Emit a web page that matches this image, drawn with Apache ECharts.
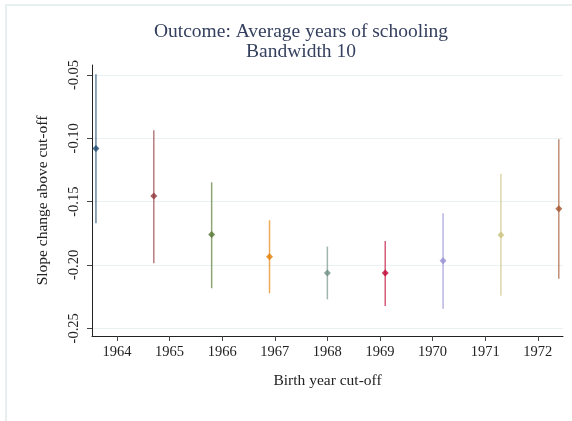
<!DOCTYPE html>
<html>
<head>
<meta charset="utf-8">
<script src="https://cdn.jsdelivr.net/npm/echarts@6/dist/echarts.min.js"></script>
<style>
html,body{margin:0;padding:0;background:#fff;}
#c{width:572px;height:421px;}
</style>
</head>
<body>
<div id="c"></div>
<script>
// Data
const cutoffYears = [1964, 1965, 1966, 1967, 1968, 1969, 1970, 1971, 1972];
const plotPositions = [1963.6, 1964.7, 1965.8, 1966.9, 1968.0, 1969.1, 1970.2, 1971.3, 1972.4];
const estimates = [-0.108, -0.1455, -0.176, -0.1935, -0.2063, -0.2063, -0.1966, -0.1763, -0.1556];
const ciUpper = [-0.0494, -0.0937, -0.1347, -0.1647, -0.1855, -0.1811, -0.1592, -0.1279, -0.1008];
const ciLower = [-0.1671, -0.1987, -0.2184, -0.2224, -0.2271, -0.2324, -0.2345, -0.2243, -0.2108];
const colors = ['#1a476f', '#90353b', '#55752f', '#e37e00', '#6e8e84', '#c10534', '#938dd2', '#cac27e', '#a0522d'];
const yTicks = [-0.25, -0.20, -0.15, -0.10, -0.05];

const serif = '"Liberation Serif", "DejaVu Serif", serif';
const chart = echarts.init(document.getElementById('c'));

const ciData = plotPositions.map((x, i) => [x, ciLower[i], ciUpper[i]]);
const ptData = plotPositions.map((x, i) => ({value: [x, estimates[i]], itemStyle: {color: colors[i]}}));

chart.setOption({
  backgroundColor: '#ffffff',
  animation: false,
  graphic: [
    {type: 'rect', shape: {x: 5, y: 4, width: 567, height: 2}, style: {fill: '#e8eff1'}, silent: true},
    {type: 'rect', shape: {x: 5, y: 4, width: 2, height: 417}, style: {fill: '#e8eff1'}, silent: true}
  ],
  title: {
    text: 'Outcome: Average years of schooling\nBandwidth 10',
    left: 296, top: 17, textAlign: 'center',
    textStyle: {fontFamily: serif, fontSize: 19.5, fontWeight: 'normal', color: '#34405e', lineHeight: 20}
  },
  grid: {left: 92, right: 9, top: 65, bottom: 85, containLabel: false},
  xAxis: {
    type: 'value', min: 1963.525, max: 1972.48,
    name: 'Birth year cut-off', nameLocation: 'middle', nameGap: 37,
    nameTextStyle: {fontFamily: serif, fontSize: 15.5, color: '#222'},
    axisLine: {show: true, lineStyle: {color: '#222', width: 1}},
    axisTick: {show: true, length: 5, customValues: cutoffYears, lineStyle: {color: '#444'}},
    axisLabel: {customValues: cutoffYears, margin: 9, fontFamily: serif, fontSize: 14.5, color: '#222',
      formatter: v => String(Math.round(v))},
    splitLine: {show: false}
  },
  yAxis: {
    type: 'value', min: -0.2561, max: -0.0421,
    name: 'Slope change above cut-off', nameLocation: 'middle', nameGap: 41,
    nameTextStyle: {fontFamily: serif, fontSize: 15.5, color: '#222'},
    axisLine: {show: true, lineStyle: {color: '#222', width: 1}},
    axisTick: {show: true, length: 5, customValues: yTicks, lineStyle: {color: '#444'}},
    axisLabel: {customValues: yTicks, rotate: 90, margin: 10, fontFamily: serif, fontSize: 14.5, color: '#222',
      formatter: v => v.toFixed(2)},
    splitLine: {show: true, lineStyle: {color: '#eaf1f2', width: 1}}
  },
  series: [
    {
      type: 'custom',
      data: ciData,
      renderItem: function (params, api) {
        const x = api.value(0);
        const p1 = api.coord([x, api.value(1)]);
        const p2 = api.coord([x, api.value(2)]);
        return {
          type: 'line',
          shape: {x1: p1[0], y1: p1[1], x2: p2[0], y2: p2[1]},
          style: {stroke: colors[params.dataIndex], lineWidth: 1.5, opacity: 0.65}
        };
      },
      z: 2
    },
    {
      type: 'scatter',
      data: ptData,
      symbol: 'diamond',
      symbolSize: 7,
      z: 3
    }
  ]
});
</script>
</body>
</html>
